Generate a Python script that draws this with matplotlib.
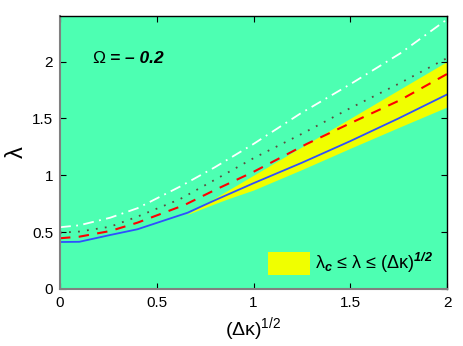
import matplotlib
matplotlib.use('Agg')
from matplotlib import pyplot
from matplotlib.patches import Patch

pyplot.rcParams['font.family'] = ['Liberation Sans', 'DejaVu Sans']
pyplot.rcParams['mathtext.fontset'] = 'custom'
pyplot.rcParams['mathtext.rm'] = 'Liberation Sans'
pyplot.rcParams['mathtext.it'] = 'Liberation Sans:italic'
pyplot.rcParams['mathtext.bf'] = 'Liberation Sans:bold'
pyplot.rcParams['mathtext.bfit'] = 'Liberation Sans:bold:italic'

# curves
x_blue = [0, 0.1, 0.26, 0.4, 0.66, 0.8, 1.0, 1.25, 1.5, 1.75, 2.0]
y_blue = [0.413, 0.415, 0.475, 0.525, 0.671, 0.78, 0.93, 1.11, 1.30, 1.50, 1.71]

x_red = [0, 0.1, 0.26, 0.4, 0.644, 0.8, 1.0, 1.275, 1.5, 1.757, 2.0]
y_red = [0.446, 0.46, 0.51, 0.583, 0.739, 0.87, 1.03, 1.275, 1.457, 1.66, 1.89]

x_dot = [0, 0.1, 0.26, 0.4, 0.62, 0.8, 1.0, 1.257, 1.5, 1.757, 2.0]
y_dot = [0.495, 0.505, 0.548, 0.636, 0.79, 0.96, 1.15, 1.37, 1.59, 1.81, 2.03]

x_white = [0, 0.1, 0.26, 0.4, 0.62, 0.8, 1.0, 1.24, 1.5, 1.757, 2.0]
y_white = [0.543, 0.56, 0.627, 0.71, 0.90, 1.07, 1.275, 1.54, 1.80, 2.07, 2.37]

# yellow band: lambda_c <= lambda <= (dk)^1/2
x_band = [0.65, 0.8, 0.88, 1.0, 1.25, 1.5, 1.75, 2.0]
band_low = [0.65, 0.75, 0.80, 0.87, 1.05, 1.237, 1.42, 1.60]
band_high = [0.65, 0.8, 0.88, 1.0, 1.25, 1.5, 1.75, 2.0]

x_ticks = [0, 0.5, 1, 1.5, 2]
y_ticks = [0, 0.5, 1, 1.5, 2]

green = '#4dffb2'
yellow = '#f0ff00'

fig = pyplot.figure(figsize=(4.63, 3.46), dpi=100)
ax = fig.add_axes([60 / 463, 1 - 289 / 346, 387 / 463, 273 / 346])
ax.set_facecolor(green)
ax.axis([0, 2, 0, 2.4])

ax.fill_between(x_band, band_low, band_high, color=yellow, linewidth=0)
ax.plot(x_white, y_white, color='white', linestyle='-.', linewidth=1.3, dashes=(6, 3, 1, 3))
ax.plot(x_dot, y_dot, color='#5e4a3c', linestyle=':', linewidth=1.3, dashes=(1, 4))
ax.plot(x_red, y_red, color='red', linestyle='--', linewidth=1.5, dashes=(5, 4))
ax.plot(x_blue, y_blue, color='#2f4fff', linewidth=1.3)

ax.set_xticks(x_ticks)
ax.set_xticklabels(['0', '0.5', '1', '1.5', '2'])
ax.set_yticks(y_ticks)
ax.set_yticklabels(['0', '0.5', '1', '1.5', '2'])
ax.tick_params(direction='in', length=4, labelsize=11, top=True, right=True, pad=5)

for side in ['left', 'bottom']:
    ax.spines[side].set_color('#808080')
    ax.spines[side].set_linewidth(1.5)
for side in ['top', 'right']:
    ax.spines[side].set_linewidth(1.0)

ax.set_xlabel('(\u0394\u03ba)$^{1/2}$', fontsize=14, labelpad=4)
ax.set_ylabel('\u03bb', fontsize=17, labelpad=3)

ax.text(0.165, 2.03, '\u03a9', fontsize=12.5, va='center', ha='left')
ax.text(0.26, 2.03, '= \u2013 0.2', fontsize=12.5, fontweight='bold',
        fontstyle='italic', va='center', ha='left')

handle = Patch(facecolor=yellow, edgecolor='none')
ax.legend([handle], ['\u03bb$_{\\mathbfit{c}}$ \u2264 \u03bb \u2264 (\u0394\u03ba)$^{\\mathbfit{1/2}}$'],
          loc='lower right', frameon=False, fontsize=13, handlelength=2.3,
          handleheight=1.5, handletextpad=0.3, borderaxespad=0.35)

fig.savefig('out.png')
